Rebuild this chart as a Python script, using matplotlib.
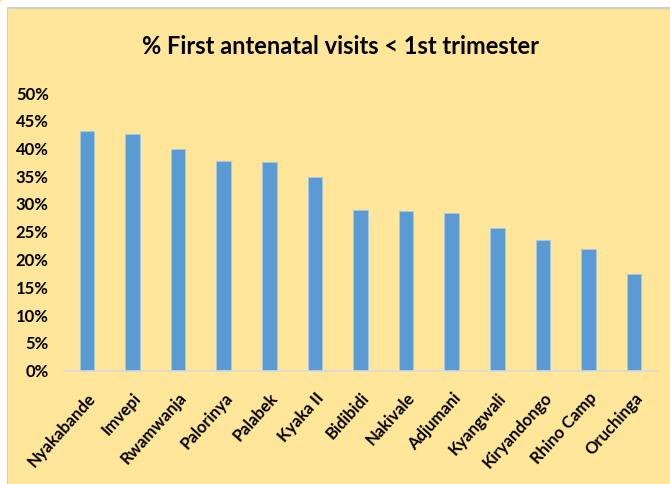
import matplotlib.pyplot as plt
from matplotlib.lines import Line2D
from matplotlib.ticker import MultipleLocator, PercentFormatter

settlements = ["Nyakabande", "Imvepi", "Rwamwanja", "Palorinya", "Palabek", "Kyaka II",
               "Bidibidi", "Nakivale", "Adjumani", "Kyangwali", "Kiryandongo",
               "Rhino Camp", "Oruchinga"]
first_visit_share = [0.432, 0.427, 0.399, 0.378, 0.375, 0.349,
                     0.290, 0.288, 0.284, 0.257, 0.236, 0.219, 0.173]

plt.rcParams["font.family"] = ["Lato", "DejaVu Sans"]

W, H = 670, 484
fig = plt.figure(figsize=(W / 100, H / 100), dpi=100)
bg = "#FFE699"
fig.patch.set_facecolor(bg)

# chart frame edge along top/left
fig.add_artist(Line2D([6.5 / W, 6.5 / W, 1], [0, 1 - 7.5 / H, 1 - 7.5 / H],
                      transform=fig.transFigure, color="#D0D0D0", linewidth=1.5))
# white strip outside the frame
fig.add_artist(Line2D([2.5 / W, 2.5 / W, 1], [0, 1 - 3 / H, 1 - 3 / H],
                      transform=fig.transFigure, color="white", linewidth=5))

left, right, bottom, top = 64, 657, 370.5, 93
ax = fig.add_axes([left / W, 1 - bottom / H, (right - left) / W, (bottom - top) / H])
ax.set_facecolor(bg)

x = range(len(settlements))
ax.bar(x, first_visit_share, width=0.32, color="#5B9BD5", edgecolor="#A9C8E8", linewidth=0.6)

ax.set_xlim(-0.5, len(settlements) - 0.5)
ax.set_ylim(0, 0.5)
ax.yaxis.set_major_locator(MultipleLocator(0.05))
ax.yaxis.set_major_formatter(PercentFormatter(1.0, decimals=0))

for s in ["top", "right", "left"]:
    ax.spines[s].set_visible(False)
ax.spines["bottom"].set_color("#D9D9D9")
ax.spines["bottom"].set_linewidth(1.2)

ax.tick_params(axis="both", length=0)
ax.tick_params(axis="y", labelsize=12, pad=11)
ax.tick_params(axis="x", pad=14)
ax.set_xticks(list(x))
ax.set_xticklabels(settlements, rotation=48, ha="right", rotation_mode="anchor",
                   fontsize=12, fontweight="bold")
for lbl in ax.get_yticklabels():
    lbl.set_fontweight("bold")

fig.text(0.508, 1 - 46 / H, "% First antenatal visits < 1st trimester",
         ha="center", va="center", fontsize=17, fontweight="bold")

fig.savefig("out.png", dpi=100, facecolor=bg)
